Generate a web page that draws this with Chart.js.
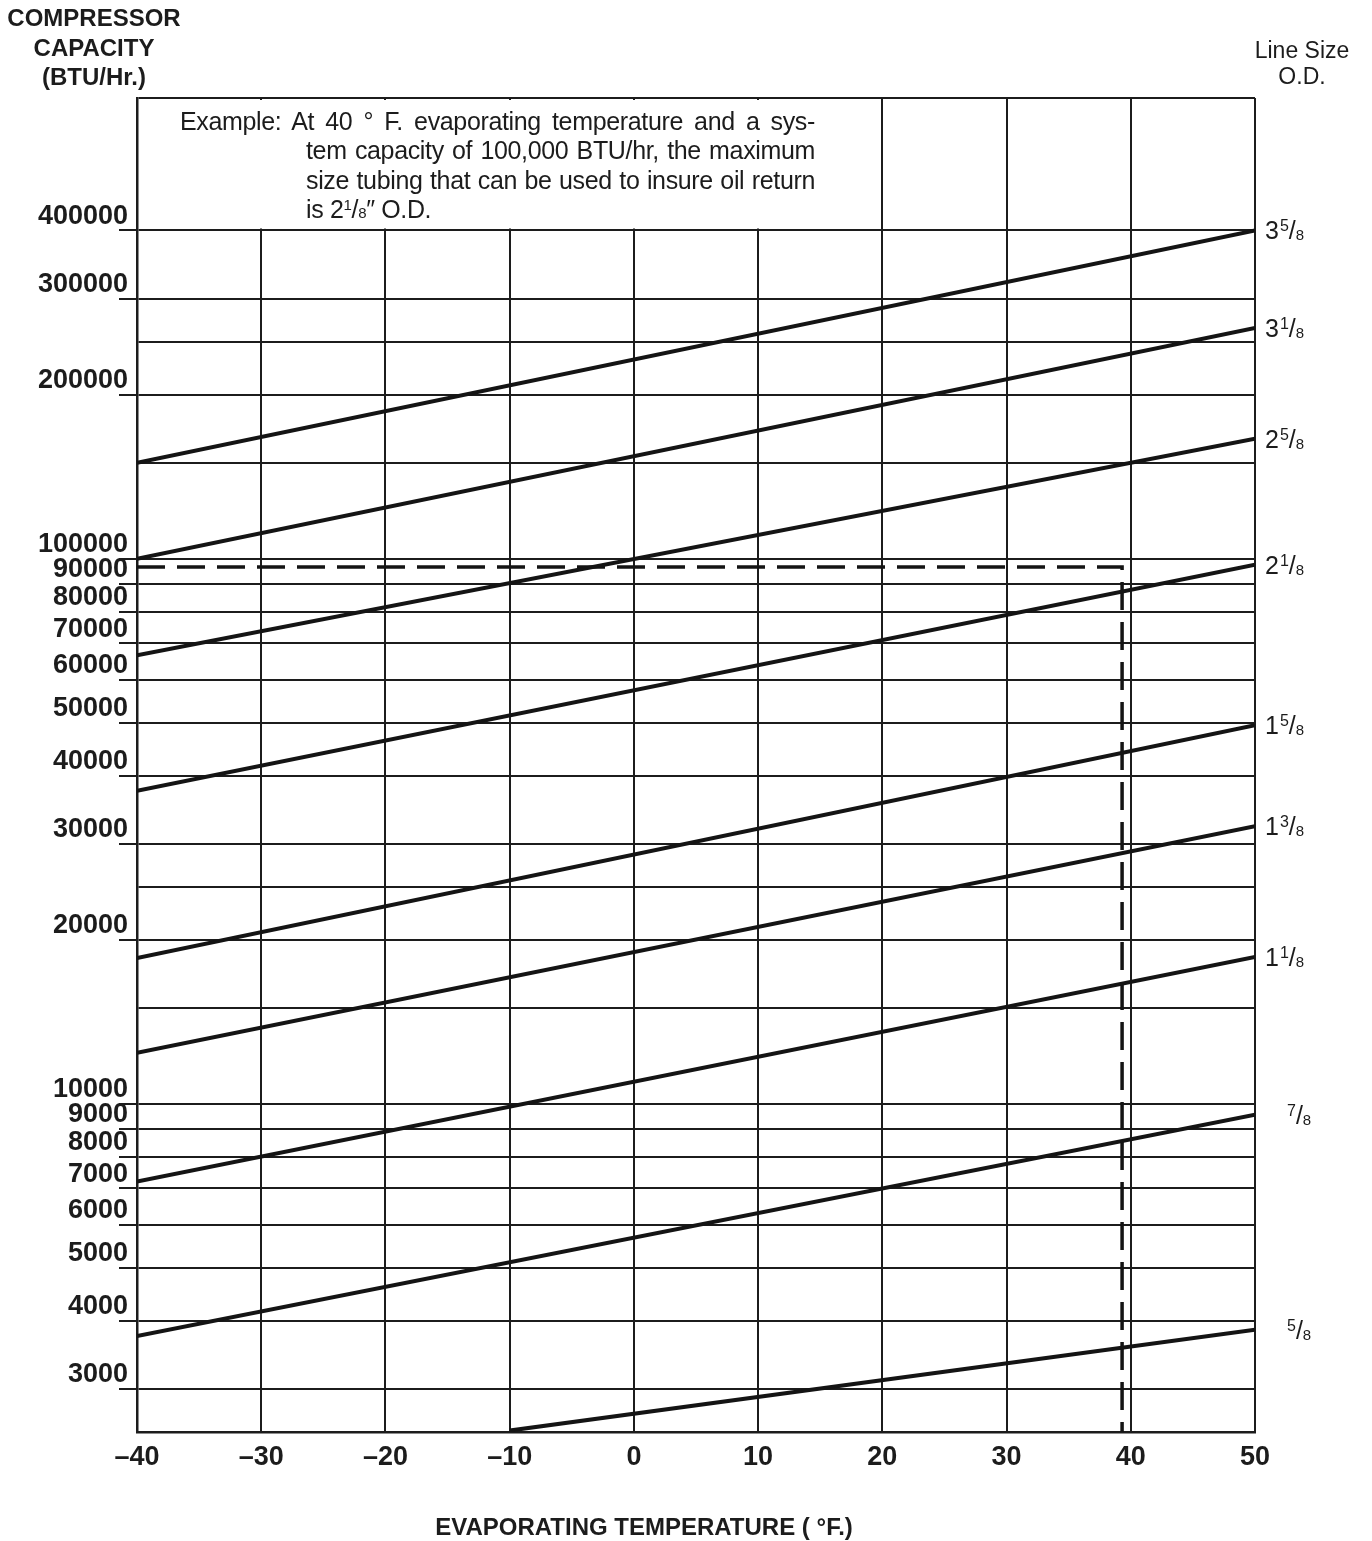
<!DOCTYPE html>
<html>
<head>
<meta charset="utf-8">
<script src="https://cdn.jsdelivr.net/npm/chart.js@4.4.1/dist/chart.umd.min.js"></script>
<style>
html,body{margin:0;padding:0;background:#fff;}
#wrap{position:relative;width:1372px;height:1541px;overflow:hidden;}
#c{position:absolute;left:0;top:0;}
.t{position:absolute;font-family:"Liberation Sans",Arial,Helvetica,sans-serif;color:#1c1c1c;white-space:nowrap;}
.hd{left:0;top:3px;width:188px;text-align:center;font-weight:bold;font-size:24px;line-height:29.5px;}
.ls{left:1243px;top:37px;width:118px;text-align:center;font-size:23px;line-height:26px;}
.ex{font-size:25px;line-height:30px;letter-spacing:-0.35px;}
.j{text-align:justify;text-align-last:justify;}
.sp{font-size:15px;position:relative;top:-8px;}
.sb{font-size:15px;}
.xt{left:344px;top:1512px;width:600px;text-align:center;font-weight:bold;font-size:24px;line-height:30px;}
</style>
</head>
<body>
<div id="wrap">
<canvas id="c" width="1372" height="1541"></canvas>
<div class="t hd">COMPRESSOR<br>CAPACITY<br>(BTU/Hr.)</div>
<div class="t ls">Line Size<br>O.D.</div>
<div class="t ex j" style="left:180px;top:106px;width:635px;">Example: At 40 ° F. evaporating temperature and a sys-</div>
<div class="t ex j" style="left:306px;top:135px;width:509px;">tem capacity of 100,000 BTU/hr, the maximum</div>
<div class="t ex j" style="left:306px;top:165px;width:509px;">size tubing that can be used to insure oil return</div>
<div class="t ex" style="left:306px;top:194px;">is 2<span class="sp">1</span>/<span class="sb">8</span>″ O.D.</div>
<div class="t xt">EVAPORATING TEMPERATURE ( °F.)</div>
</div>
<script>
// ---- data ----
const xTicks = [-40, -30, -20, -10, 0, 10, 20, 30, 40, 50];
const yMin = 2500;
const yMax = 700000;
const yGridValues = [400000, 300000, 250000, 200000, 150000, 100000, 90000, 80000, 70000, 60000,
                     50000, 40000, 30000, 25000, 20000, 15000, 10000, 9000, 8000, 7000, 6000, 5000, 4000, 3000];
const yLabeledValues = [400000, 300000, 200000, 100000, 90000, 80000, 70000, 60000, 50000, 40000,
                        30000, 20000, 10000, 9000, 8000, 7000, 6000, 5000, 4000, 3000];

// line sizes (O.D.), whole part / numerator / denominator
const sizeWhole = ['3', '3', '2', '2', '1', '1', '1', '', ''];
const sizeNum   = ['5', '1', '5', '1', '5', '3', '1', '7', '5'];
const sizeDen   = '8';

// each line: capacity at its start temperature and at 50 °F
const startTemp  = [-40, -40, -40, -40, -40, -40, -40, -40, -10];
const capAtStart = [150000, 100000, 66500, 37500, 18500, 12400, 7200, 3750, 2515];
const endTemp = 50;
const capAtEnd   = [400000, 265000, 166000, 97500, 49500, 32300, 18600, 9550, 3850];

// dashed example path
const exampleTemp = 39.3;
const exampleCap = 96500;

// example box region (in data units)
const boxFromTemp = -40, boxToTemp = 20, boxBottomCap = 400000;

const FONT = '"Liberation Sans", Arial, Helvetica, sans-serif';
const INK = '#1c1c1c';

const datasets = capAtStart.map((v, i) => ({
  data: [{x: startTemp[i], y: v}, {x: endTemp, y: capAtEnd[i]}],
  borderColor: '#141414', borderWidth: 4, pointRadius: 0, fill: false, tension: 0
}));
datasets.push({
  data: [{x: -40, y: exampleCap}, {x: exampleTemp, y: exampleCap}, {x: exampleTemp, y: yMin}],
  borderColor: '#141414', borderWidth: 3.5, borderDash: [28, 12], pointRadius: 0, fill: false, tension: 0
});

const boxPlugin = {
  id: 'exampleBox',
  beforeDatasetsDraw(chart) {
    const {ctx, scales: {x, y}, chartArea} = chart;
    const x0 = x.getPixelForValue(boxFromTemp) + 2;
    const x1 = x.getPixelForValue(boxToTemp) - 2;
    const y0 = chartArea.top + 2;
    const y1 = y.getPixelForValue(boxBottomCap) - 2;
    ctx.save();
    ctx.fillStyle = '#fff';
    ctx.fillRect(x0, y0, x1 - x0, y1 - y0);
    ctx.restore();
  }
};

const sizeLabels = {
  id: 'sizeLabels',
  afterDraw(chart) {
    const {ctx, scales: {x, y}} = chart;
    ctx.save();
    ctx.fillStyle = INK;
    ctx.textBaseline = 'alphabetic';
    ctx.textAlign = 'left';
    capAtEnd.forEach((v, i) => {
      const py = y.getPixelForValue(v);
      const base = py + 9;
      let px = x.right + (sizeWhole[i] ? 10 : 32);
      ctx.font = '25px ' + FONT;
      if (sizeWhole[i]) {
        ctx.fillText(sizeWhole[i], px, base);
        px += ctx.measureText(sizeWhole[i]).width + 1;
      }
      ctx.font = '16px ' + FONT;
      ctx.fillText(sizeNum[i], px, base - 8);
      px += ctx.measureText(sizeNum[i]).width;
      ctx.font = '25px ' + FONT;
      ctx.fillText('/', px, base);
      px += ctx.measureText('/').width;
      ctx.font = '15px ' + FONT;
      ctx.fillText(sizeDen, px, base + 1);
    });
    ctx.restore();
  }
};

new Chart(document.getElementById('c'), {
  type: 'line',
  data: {datasets},
  options: {
    responsive: false,
    animation: false,
    events: [],
    layout: {padding: {left: 0, top: 98, right: 117, bottom: 49}},
    plugins: {legend: {display: false}, tooltip: {enabled: false}},
    scales: {
      x: {
        type: 'linear', min: -40, max: 50,
        afterBuildTicks: s => { s.ticks = xTicks.map(v => ({value: v})); },
        afterFit: s => { s.height = 60; },
        grid: {color: INK, lineWidth: 2, drawTicks: false},
        border: {color: INK, width: 2.5},
        ticks: {
          padding: 9, color: INK, autoSkip: false, maxRotation: 0,
          font: {family: FONT, size: 27, weight: 'bold'},
          callback: v => (v < 0 ? '\u2013' + (-v) : String(v))
        }
      },
      y: {
        type: 'logarithmic', min: yMin, max: yMax,
        afterBuildTicks: s => { s.ticks = [yMax, ...yGridValues].map(v => ({value: v})); },
        afterFit: s => { s.width = 137; },
        grid: {
          color: INK, lineWidth: 2, drawTicks: true, tickLength: 18,
          tickColor: c => (c.tick && yLabeledValues.includes(c.tick.value) ? INK : 'rgba(0,0,0,0)')
        },
        border: {color: INK, width: 2.5},
        ticks: {
          autoSkip: false, padding: -9, labelOffset: -14, color: INK,
          font: {family: FONT, size: 27, weight: 'bold'},
          callback: v => (yLabeledValues.includes(v) ? String(v) : '')
        }
      }
    }
  },
  plugins: [boxPlugin, sizeLabels]
});
</script>
</body>
</html>
